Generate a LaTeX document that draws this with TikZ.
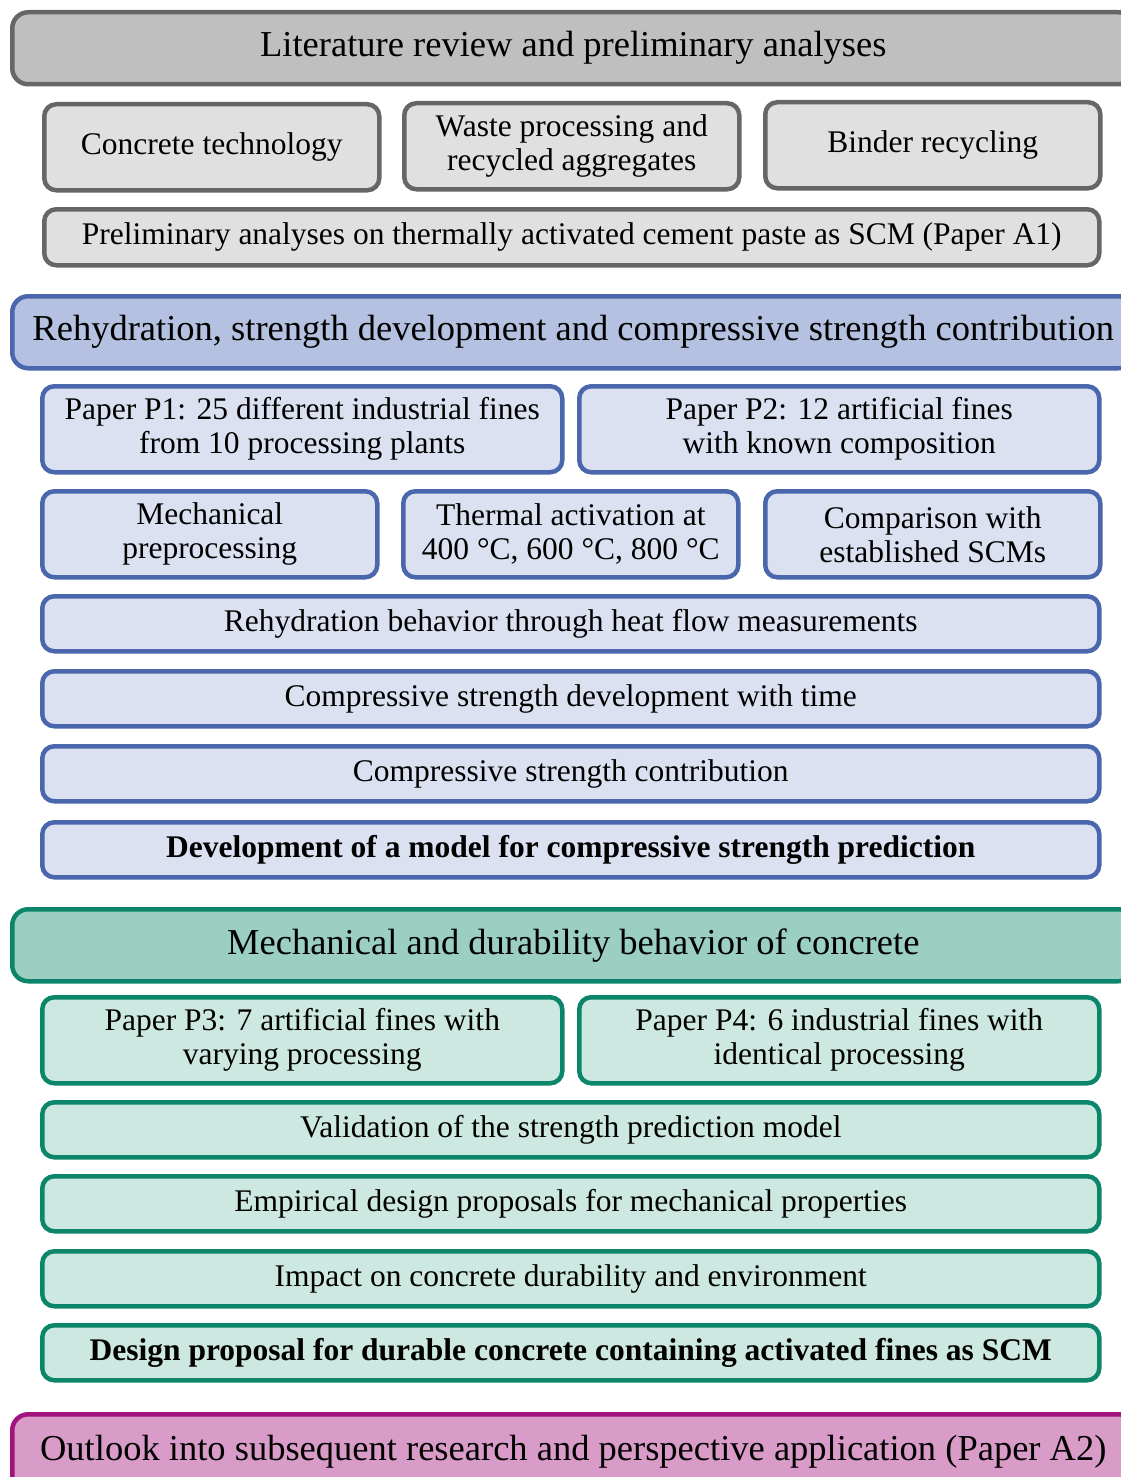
\documentclass[tikz,border=0pt]{standalone}
\usepackage{fontspec}
\setmainfont{Liberation Serif}
\definecolor{grayline}{HTML}{666666}
\definecolor{grayhead}{HTML}{BFBFBF}
\definecolor{graybox}{HTML}{E0E0E0}
\definecolor{blueline}{HTML}{4A66AC}
\definecolor{bluehead}{HTML}{B4C1E0}
\definecolor{bluebox}{HTML}{DCE1F1}
\definecolor{greenline}{HTML}{0C866A}
\definecolor{greenhead}{HTML}{9ACFC2}
\definecolor{greenbox}{HTML}{CDE7E1}
\definecolor{pinkline}{HTML}{A3137E}
\definecolor{pinkhead}{HTML}{D99CC8}
\tikzset{
  head/.style  = {draw, rectangle, rounded corners=16pt, line width=4.5pt, anchor=north west,
                  inner sep=0pt, minimum width=1122pt, minimum height=72pt, align=center,
                  font=\fontsize{36.5}{42}\selectfont},
  block/.style = {draw, rectangle, rounded corners=12pt, line width=4.5pt, anchor=north west,
                  inner sep=0pt, align=center, font=\fontsize{31.5}{34}\selectfont},
  third/.style = {block, minimum width=335pt, minimum height=86pt},
  half/.style  = {block, minimum width=520pt, minimum height=86pt},
  full/.style  = {block, minimum width=1057pt, minimum height=55pt},
  gray/.style  = {draw=grayline, fill=graybox},
  blue/.style  = {draw=blueline, fill=bluebox},
  green/.style = {draw=greenline, fill=greenbox},
}

\begin{document}
\begin{tikzpicture}[x=1pt, y=-1pt]
    \useasboundingbox (0,0) rectangle (1120,1477);
    % literature
    \node [head, draw=grayline, fill=grayhead] (lit) at (10,10) {Literature review and preliminary analyses};
    \node [third, gray] (tech) at (42,102) {Concrete technology};
    \node [third, gray] (waste) at (402,101) {Waste processing and\\recycled aggregates};
    \node [third, gray] (binder) at (763,100) {Binder recycling};
    \node [block, gray, minimum width=1055pt, minimum height=56pt] (prelim) at (42,207)
        {Preliminary analyses on thermally activated cement paste as SCM (Paper A1)};
    % rehydration and strength
    \node [head, draw=blueline, fill=bluehead] (rehyd) at (10,294)
        {Rehydration, strength development and compressive strength contribution};
    \node [half, blue] (pone) at (40,384) {Paper P1: 25 different industrial fines\\from 10 processing plants};
    \node [half, blue] (ptwo) at (577,384) {Paper P2: 12 artificial fines\\with known composition};
    \node [third, blue] (mech) at (40,489) {Mechanical\\preprocessing};
    \node [third, blue] (therm) at (401,489) {Thermal activation at\\400 °C, 600 °C, 800 °C};
    \node [third, blue] (comp) at (763,489) {Comparison with\\established SCMs};
    \node [full, blue] (heat) at (40,594) {Rehydration behavior through heat flow measurements};
    \node [full, blue] (strdev) at (40,669) {Compressive strength development with time};
    \node [full, blue] (strcon) at (40,744) {Compressive strength contribution};
    \node [full, blue] (model) at (40,820) {\bfseries Development of a model for compressive strength prediction};
    % concrete behaviour
    \node [head, draw=greenline, fill=greenhead] (mechdur) at (10,907) {Mechanical and durability behavior of concrete};
    \node [half, green] (pthree) at (40,995) {Paper P3: 7 artificial fines with\\varying processing};
    \node [half, green] (pfour) at (577,995) {Paper P4: 6 industrial fines with\\identical processing};
    \node [full, green] (valid) at (40,1100) {Validation of the strength prediction model};
    \node [full, green] (empir) at (40,1174) {Empirical design proposals for mechanical properties};
    \node [full, green] (impact) at (40,1249) {Impact on concrete durability and environment};
    \node [full, green] (design) at (40,1323) {\bfseries Design proposal for durable concrete containing activated fines as SCM};
    % outlook
    \node [head, draw=pinkline, fill=pinkhead, minimum height=80pt, text depth=12pt] (outlook) at (10,1412)
        {Outlook into subsequent research and perspective application (Paper A2)};
\end{tikzpicture}
\end{document}
